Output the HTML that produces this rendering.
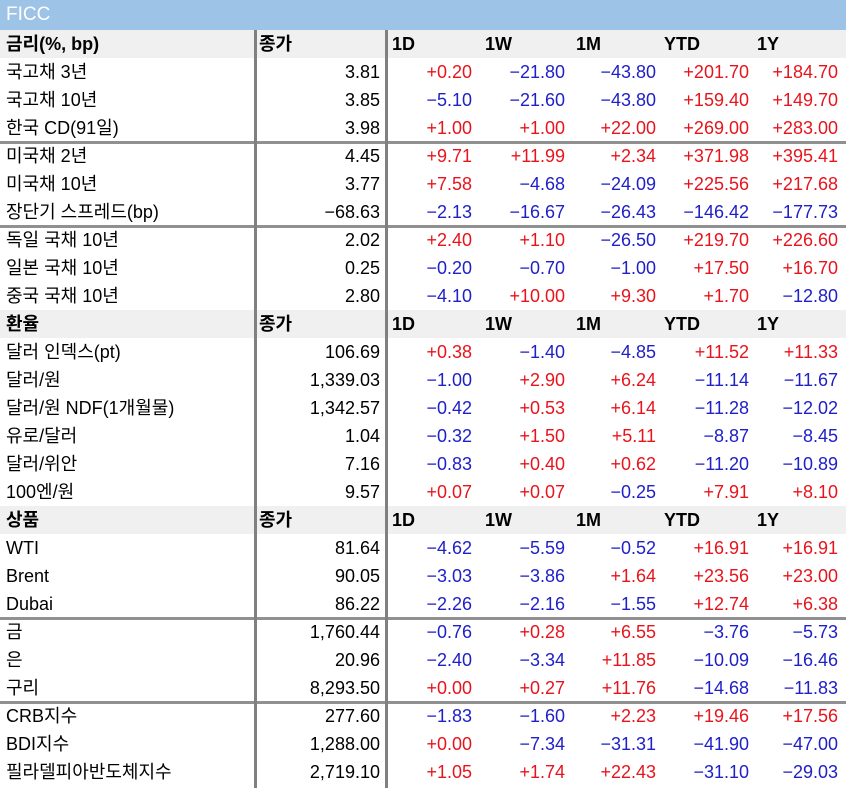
<!DOCTYPE html>
<html><head><meta charset="utf-8">
<style>
body{margin:0;width:846px;height:788px;background:#fff;overflow:hidden;font-family:"Liberation Sans","Noto Sans CJK KR",sans-serif;}
#wrap{position:relative;width:846px;height:788px;}
.bar{position:absolute;left:0;top:0;width:846px;height:30px;background:#9dc3e6;color:#fff;font-size:19px;line-height:30px;padding-left:6px;box-sizing:border-box;}
.row{position:absolute;left:0;width:846px;height:28px;font-size:18px;line-height:28px;}
.row.hdr{background:#f0f0f0;font-weight:bold;}
.c{position:absolute;top:0;white-space:nowrap;}
.r{text-align:right;}
.pos{color:#e8141c;}
.neg{color:#2020c8;}
.vl{position:absolute;top:30px;width:3px;height:758px;background:#808080;}
.hl{position:absolute;left:0;width:846px;height:3px;background:#909090;}
</style></head>
<body>
<div id="wrap">
<div class="bar">FICC</div>
</div>
<script>
const rows=[
["h","금리(%, bp)"],
["국고채 3년","3.81","+0.20","-21.80","-43.80","+201.70","+184.70"],
["국고채 10년","3.85","-5.10","-21.60","-43.80","+159.40","+149.70"],
["한국 CD(91일)","3.98","+1.00","+1.00","+22.00","+269.00","+283.00"],
["미국채 2년","4.45","+9.71","+11.99","+2.34","+371.98","+395.41"],
["미국채 10년","3.77","+7.58","-4.68","-24.09","+225.56","+217.68"],
["장단기 스프레드(bp)","-68.63","-2.13","-16.67","-26.43","-146.42","-177.73"],
["독일 국채 10년","2.02","+2.40","+1.10","-26.50","+219.70","+226.60"],
["일본 국채 10년","0.25","-0.20","-0.70","-1.00","+17.50","+16.70"],
["중국 국채 10년","2.80","-4.10","+10.00","+9.30","+1.70","-12.80"],
["h","환율"],
["달러 인덱스(pt)","106.69","+0.38","-1.40","-4.85","+11.52","+11.33"],
["달러/원","1,339.03","-1.00","+2.90","+6.24","-11.14","-11.67"],
["달러/원 NDF(1개월물)","1,342.57","-0.42","+0.53","+6.14","-11.28","-12.02"],
["유로/달러","1.04","-0.32","+1.50","+5.11","-8.87","-8.45"],
["달러/위안","7.16","-0.83","+0.40","+0.62","-11.20","-10.89"],
["100엔/원","9.57","+0.07","+0.07","-0.25","+7.91","+8.10"],
["h","상품"],
["WTI","81.64","-4.62","-5.59","-0.52","+16.91","+16.91"],
["Brent","90.05","-3.03","-3.86","+1.64","+23.56","+23.00"],
["Dubai","86.22","-2.26","-2.16","-1.55","+12.74","+6.38"],
["금","1,760.44","-0.76","+0.28","+6.55","-3.76","-5.73"],
["은","20.96","-2.40","-3.34","+11.85","-10.09","-16.46"],
["구리","8,293.50","+0.00","+0.27","+11.76","-14.68","-11.83"],
["CRB지수","277.60","-1.83","-1.60","+2.23","+19.46","+17.56"],
["BDI지수","1,288.00","+0.00","-7.34","-31.31","-41.90","-47.00"],
["필라델피아반도체지수","2,719.10","+1.05","+1.74","+22.43","-31.10","-29.03"]
];
const sepAfter=[3,6,20,23];
const hdrLabels=["종가","1D","1W","1M","YTD","1Y"];
const hdrLeft=[259,392,485,576,664,757];
const rightEdge=[380,472,565,656,749,838];
const wrap=document.getElementById('wrap');
rows.forEach((r,i)=>{
  const d=document.createElement('div');
  d.className='row'+(r[0]==='h'?' hdr':'');
  d.style.top=(30+i*28)+'px';
  
  
  const lab=document.createElement('div');
  lab.className='c';lab.style.left='6px';
  lab.textContent=r[0]==='h'?r[1]:r[0];
  
  
  d.appendChild(lab);
  if(r[0]==='h'){
    hdrLabels.forEach((t,j)=>{
      const c=document.createElement('div');
      c.className='c';c.style.left=hdrLeft[j]+'px';c.textContent=t;
      
      
      d.appendChild(c);
    });
  } else {
    for(let j=1;j<7;j++){
      const c=document.createElement('div');
      const v=r[j];
      c.className='c r'+(j>1?(v[0]==='+'?' pos':' neg'):'');
      c.style.right=(846-rightEdge[j-1])+'px';
      c.textContent=v.replace('-','\u2212');
      
      
      d.appendChild(c);
    }
  }
  wrap.appendChild(d);
});
sepAfter.forEach(i=>{
  const l=document.createElement('div');
  l.className='hl';l.style.top=(30+(i+1)*28-1)+'px';
  
  
  wrap.appendChild(l);
});
[254,385].forEach(x=>{
  const l=document.createElement('div');
  l.className='vl';l.style.left=x+'px';
  
  
  wrap.appendChild(l);
});
</script>
</body></html>
